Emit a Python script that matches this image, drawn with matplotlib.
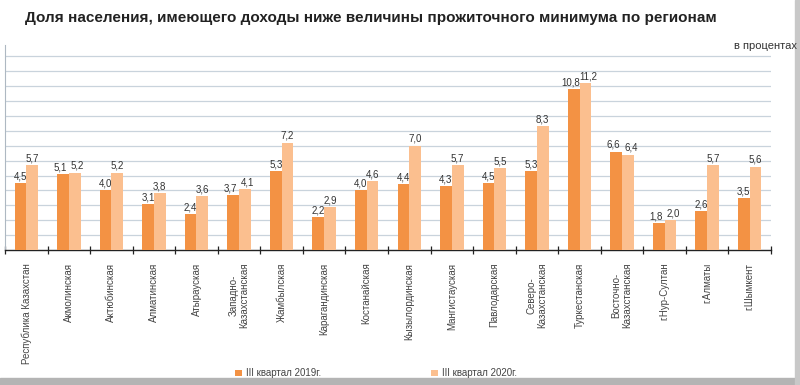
import numpy as np
import matplotlib.pyplot as plt
from matplotlib.patches import Rectangle

regions = ['Республика Казахстан', 'Акмолинская', 'Актюбинская', 'Алматинская', 'Атырауская',
           'Западно-\nКазахстанская', 'Жамбылская', 'Карагандинская', 'Костанайская',
           'Кызылординская', 'Мангистауская', 'Павлодарская', 'Северо-\nКазахстанская',
           'Туркестанская', 'Восточно-\nКазахстанская', 'г.Нур-Султан', 'г.Алматы', 'г.Шымкент']
q3_2019 = [4.5, 5.1, 4.0, 3.1, 2.4, 3.7, 5.3, 2.2, 4.0, 4.4, 4.3, 4.5, 5.3, 10.8, 6.6, 1.8, 2.6, 3.5]
q3_2020 = [5.7, 5.2, 5.2, 3.8, 3.6, 4.1, 7.2, 2.9, 4.6, 7.0, 5.7, 5.5, 8.3, 11.2, 6.4, 2.0, 5.7, 5.6]
series_names = ['III квартал 2019г.', 'III квартал 2020г.']

dark = '#F39244'
light = '#FBBF8F'
plt.rcParams['font.family'] = ['Liberation Sans', 'DejaVu Sans']

fig = plt.figure(figsize=(8, 3.85), dpi=100)
ax = fig.add_axes([0.00625, 0.3506, 0.9575, 0.532])

x = np.arange(len(regions))
w = 0.275
b1 = ax.bar(x - w / 2, q3_2019, w, color=dark, zorder=3, label=series_names[0])
b2 = ax.bar(x + w / 2, q3_2020, w, color=light, zorder=3, label=series_names[1])

fmt = lambda v: ('%.1f' % v).replace('.', ',')
for side, bars, vals, other in ((-1, b1, q3_2019, q3_2020), (1, b2, q3_2020, q3_2019)):
    for r, v, o in zip(bars, vals, other):
        # push labels of near-equal pairs apart a bit so they don't collide
        dx = side * 0.07 if abs(v - o) < 0.5 else 0
        ax.text(r.get_x() + r.get_width() / 2 + dx, v + 0.12, fmt(v), ha='center', va='bottom',
                fontsize=7, color='#333333', zorder=4)

ax.set_xlim(-0.5, len(regions) - 0.5)
ax.set_ylim(0, 13.75)
ax.set_yticks(np.arange(1, 14))
ax.yaxis.grid(True, color='#C9D3DC', linewidth=0.9, zorder=0)
ax.tick_params(axis='y', left=False, labelleft=False)
ax.set_xticks(np.arange(-0.5, len(regions)), minor=False)
ax.set_xticklabels([])
ax.tick_params(axis='x', direction='inout', length=6, width=0.9, color='#222222')
for s in ['top', 'right']:
    ax.spines[s].set_visible(False)
ax.spines['left'].set_color('#AEB8C2')
ax.spines['bottom'].set_color('#222222')
ax.spines['bottom'].set_linewidth(1.0)

for i, name in enumerate(regions):
    ax.text(i, -0.85, name, rotation=90, ha='center', va='top', fontsize=7,
            color='#444444', multialignment='center', linespacing=1.1)

fig.text(0.464, 0.953, 'Доля населения, имеющего доходы ниже величины прожиточного минимума по регионам',
         ha='center', va='center', fontsize=11, fontweight='bold', color='#222222')
fig.text(0.996, 0.88, 'в процентах', ha='right', va='center', fontsize=8, color='#333333')

fig.legend(handles=[b1, b2], labels=series_names, loc='center', bbox_to_anchor=(0.47, 0.03),
           ncol=2, frameon=False, fontsize=7, labelcolor='#444444', handlelength=0.7,
           handleheight=0.7, handletextpad=0.4, columnspacing=11.3)

# grey frame strips at right and bottom
fig.patches.append(Rectangle((0, 0), 1, 0.018, transform=fig.transFigure, color='#B4B4B4', zorder=0))
fig.patches.append(Rectangle((0.994, 0), 0.006, 1, transform=fig.transFigure, color='#C8C8C8', zorder=0))

fig.savefig('out.png', dpi=100)
